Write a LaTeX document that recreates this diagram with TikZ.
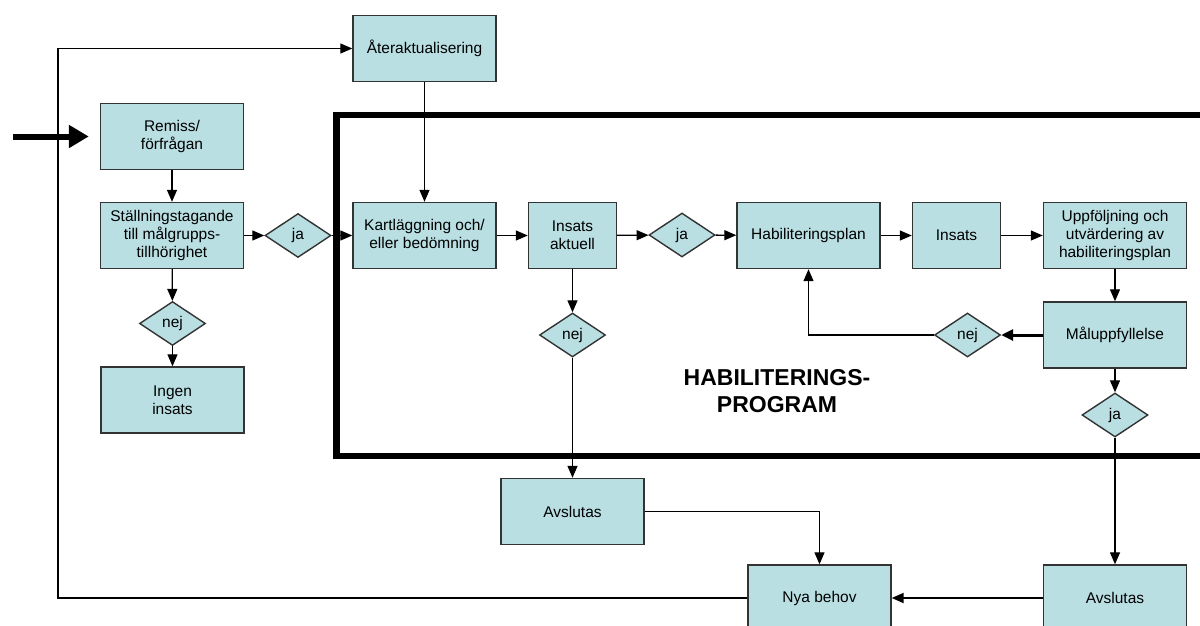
\documentclass[tikz,border=0pt]{standalone}
\usepackage{fontspec}
\setmainfont{Liberation Sans}
\usetikzlibrary{shapes.geometric,arrows.meta}
\definecolor{boxfill}{RGB}{185,223,227}
\definecolor{boxline}{RGB}{51,51,51}

\begin{document}
\begin{tikzpicture}[x=1pt,y=-1pt,
    box/.style={draw=boxline,line width=1.4pt,fill=boxfill,align=center,inner sep=0pt,
      minimum width=143pt,minimum height=66pt,font=\fontsize{15.5}{18}\selectfont},
    smallbox/.style={box,minimum width=88pt},
    choice/.style={draw=boxline,line width=1.4pt,fill=boxfill,diamond,inner sep=0pt,
      minimum width=66pt,minimum height=44pt,font=\fontsize{15.5}{18}\selectfont},
    arr/.style={line width=1.3pt,-{Triangle[length=12pt,width=10pt]}},
  ]
  \useasboundingbox (0,0) rectangle (1200,625);
  \clip (0,0) rectangle (1200,625);
  %% Frame
  \draw[line width=6.5pt] (336.5,115) rectangle (1240,456);
  \node[font=\fontsize{23}{27}\selectfont\bfseries,align=center] (prog) at (777,391) {HABILITERINGS-\\PROGRAM};
  %% Boxes
  \node[box] (reak) at (424.5,48.5) {Återaktualisering};
  \node[box] (remiss) at (172,136.5) {Remiss/\\förfrågan};
  \node[box] (stall) at (172,235.5) {Ställningstagande\\till målgrupps-\\tillhörighet};
  \node[box] (ingen) at (172.5,400) {Ingen\\insats};
  \node[box] (kart) at (424.5,235.5) {Kartläggning och/\\eller bedömning};
  \node[smallbox] (aktuell) at (572.5,235.5) {Insats\\aktuell};
  \node[box] (habplan) at (808.5,235.5) {Habiliteringsplan};
  \node[smallbox] (insats) at (956.5,235.5) {Insats};
  \node[box] (uppf) at (1115,235.5) {Uppföljning och\\utvärdering av\\habiliteringsplan};
  \node[box] (malupp) at (1115,335) {Måluppfyllelse};
  \node[box] (avsl1) at (572.5,511.5) {Avslutas};
  \node[box] (nyab) at (819.5,598) {Nya behov};
  \node[box] (avsl2) at (1115,598) {Avslutas};
  %% Choices
  \node[choice] (ja1) at (298,235.5) {ja};
  \node[choice] (nej1) at (172.5,323.5) {nej};
  \node[choice] (ja2) at (682,235) {ja};
  \node[choice] (nej2) at (572.5,335) {nej};
  \node[choice] (nej3) at (967.5,335) {nej};
  \node[choice] (ja3) at (1115,415) {ja};
  %% Connectors
  \coordinate (start) at (13,136.5);
  \coordinate (fb) at (58,598);
  \draw[line width=6pt,-{Triangle[length=20pt,width=22pt]},shorten >=11pt] (start) -- (remiss.west);
  \draw[arr] (remiss) -- (stall);
  \draw[arr] (stall) -- (ja1);
  \draw[arr] (ja1) -- (kart);
  \draw[arr] (stall) -- (nej1);
  \draw[arr] (nej1) -- (ingen);
  \draw[arr] (reak) -- (kart);
  \draw[arr] (kart) -- (aktuell);
  \draw[arr] (aktuell) -- (ja2);
  \draw[arr] (ja2) -- (habplan);
  \draw[arr] (habplan) -- (insats);
  \draw[arr] (insats) -- (uppf);
  \draw[arr] (uppf) -- (malupp);
  \draw[arr] (aktuell) -- (nej2);
  \draw[arr] (nej2) -- (avsl1);
  \draw[arr,line width=3pt,-{Triangle[length=12pt,width=11pt]}] (malupp) -- (nej3);
  \draw[arr] (nej3.west) -| (habplan.south);
  \draw[arr] (malupp) -- (ja3);
  \draw[arr] (ja3) -- (avsl2);
  \draw[arr] (avsl1.east) -| (nyab.north);
  \draw[arr,line width=2pt] (avsl2) -- (nyab);
  \draw[arr] (nyab.west) -- (fb) |- (reak.west);
\end{tikzpicture}
\end{document}
